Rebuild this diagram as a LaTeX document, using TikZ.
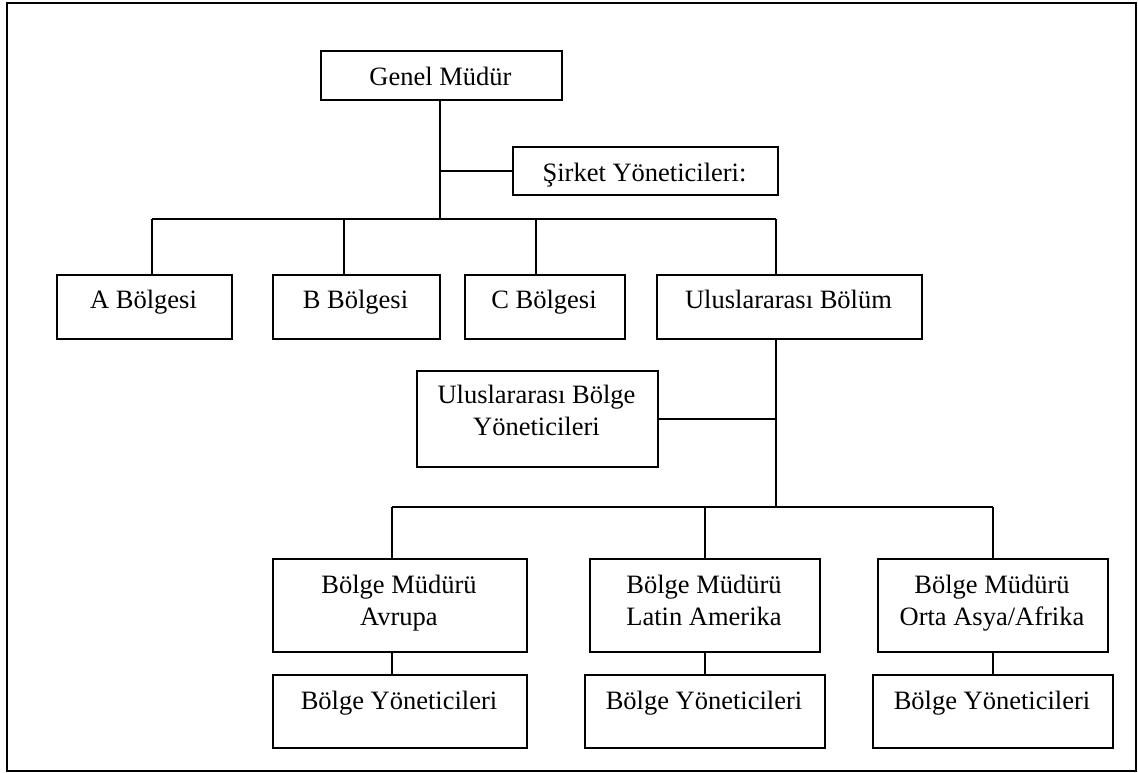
\documentclass[tikz,border=0pt]{standalone}
\usepackage{fontspec}
\setmainfont{Liberation Serif}
\begin{document}
\begin{tikzpicture}[x=1pt,y=-1pt,
  box/.style={draw, line width=1.8pt, inner sep=0pt, anchor=north west},
  txt/.style={inner sep=0pt, anchor=base, align=center,
    font=\fontsize{26.5}{31.8}\selectfont},
  conn/.style={line width=1.8pt}]
\useasboundingbox (0,0) rectangle (1138,772);
% outer frame
\draw[line width=2.2pt] (7,3) rectangle (1136,771);

% top level
\node[box, minimum width=241pt, minimum height=49pt] (gm) at (320,50) {};
\node[txt] (gm-t) at (440.5,85) {Genel Müdür};
\node[box, minimum width=265pt, minimum height=48pt] (sy) at (512,146) {};
\node[txt] (sy-t) at (644.5,181) {Şirket Yöneticileri:};

% regions
\node[box, minimum width=175pt, minimum height=64pt] (ra) at (56,274) {};
\node[txt] (ra-t) at (143.5,308.5) {A Bölgesi};
\node[box, minimum width=167pt, minimum height=64pt] (rb) at (272,274) {};
\node[txt] (rb-t) at (355.5,308.5) {B Bölgesi};
\node[box, minimum width=160pt, minimum height=64pt] (rc) at (464,274) {};
\node[txt] (rc-t) at (544,308.5) {C Bölgesi};
\node[box, minimum width=265pt, minimum height=64pt] (ub) at (656,274) {};
\node[txt] (ub-t) at (788.5,308.5) {Uluslararası Bölüm};

% international regional managers (base = last line)
\node[box, minimum width=241pt, minimum height=96pt] (uby) at (416,370) {};
\node[txt] (uby-t) at (536.5,435) {Uluslararası Bölge\\Yöneticileri};

% regional directors
\node[box, minimum width=254pt, minimum height=93pt] (bm1) at (272,558) {};
\node[txt] (bm1-t) at (399,625) {Bölge Müdürü\\Avrupa};
\node[box, minimum width=230pt, minimum height=93pt] (bm2) at (589,558) {};
\node[txt] (bm2-t) at (704,625) {Bölge Müdürü\\Latin Amerika};
\node[box, minimum width=230pt, minimum height=93pt] (bm3) at (877,558) {};
\node[txt] (bm3-t) at (992,625) {Bölge Müdürü\\Orta Asya/Afrika};

% regional managers
\node[box, minimum width=254pt, minimum height=73pt] (by1) at (272,674) {};
\node[txt] (by1-t) at (399,709.3) {Bölge Yöneticileri};
\node[box, minimum width=240pt, minimum height=73pt] (by2) at (584,674) {};
\node[txt] (by2-t) at (704,709.3) {Bölge Yöneticileri};
\node[box, minimum width=240pt, minimum height=73pt] (by3) at (872,674) {};
\node[txt] (by3-t) at (992,709.3) {Bölge Yöneticileri};

% junction points
\coordinate (j1) at (440,219);
\coordinate (j0) at (j1 |- sy.west);
\coordinate (da) at (152,219);
\coordinate (db) at (344,219);
\coordinate (dc) at (536,219);
\coordinate (du) at (776,219);
\coordinate (j2) at (776,507);
\coordinate (j3) at (j2 |- uby.east);
\coordinate (d1) at (392,507);
\coordinate (d2) at (705,507);
\coordinate (d3) at (993,507);

% upper tree
\draw[conn] (gm.south -| j1) -- (j1);
\draw[conn] (j0) -- (sy.west);
\draw[conn] (da) -- (du);
\draw[conn] (da) -- (da |- ra.north);
\draw[conn] (db) -- (db |- rb.north);
\draw[conn] (dc) -- (dc |- rc.north);
\draw[conn] (du) -- (du |- ub.north);

% international branch
\draw[conn] (ub.south -| j2) -- (j2);
\draw[conn] (j3) -- (uby.east);
\draw[conn] (d1) -- (d3);
\draw[conn] (d1) -- (d1 |- bm1.north);
\draw[conn] (d2) -- (d2 |- bm2.north);
\draw[conn] (d3) -- (d3 |- bm3.north);

% director to managers
\draw[conn] (bm1.south -| d1) -- (by1.north -| d1);
\draw[conn] (bm2.south -| d2) -- (by2.north -| d2);
\draw[conn] (bm3.south -| d3) -- (by3.north -| d3);
\end{tikzpicture}
\end{document}
